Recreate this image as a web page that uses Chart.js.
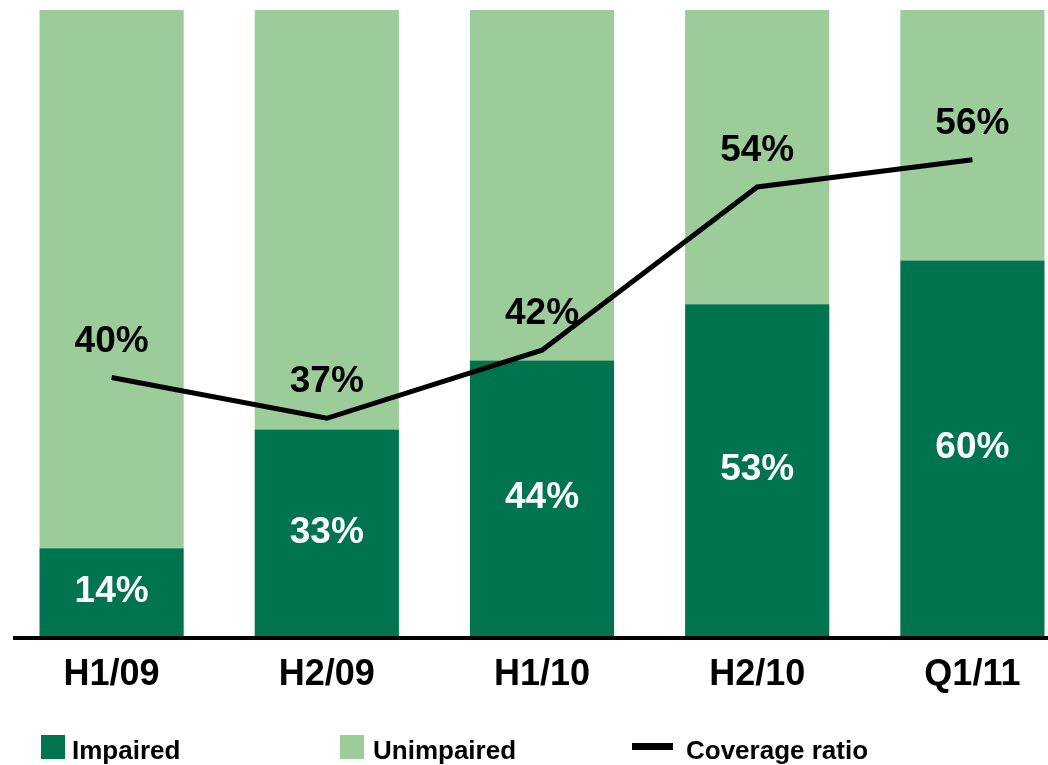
<!DOCTYPE html>
<html>
<head>
<meta charset="utf-8">
<script src="https://cdn.jsdelivr.net/npm/chart.js@4"></script>
<style>
  html, body { margin: 0; padding: 0; background: #fff; overflow: hidden; }
  #wrap { width: 1090px; height: 765px; }
</style>
</head>
<body>
<div id="wrap"><canvas id="myChart" width="1090" height="765"></canvas></div>
<script>
var periods = ['H1/09', 'H2/09', 'H1/10', 'H2/10', 'Q1/11'];
var impaired = [14, 33, 44, 53, 60];
var unimpaired = [86, 67, 56, 47, 40];
var coverage = [40, 37, 42, 54, 56];

var darkGreen = '#00734F';
var lightGreen = '#9BCC99';
var fontName = '"Liberation Sans", Arial, sans-serif';

// labels, axis line and legend
var extras = {
    id: 'extras',
    afterDatasetsDraw: function(chart) {
        var c = chart.ctx;
        var area = chart.chartArea;
        c.save();

        // baseline
        c.strokeStyle = '#000';
        c.lineWidth = 4;
        c.beginPath();
        c.moveTo(13, area.bottom + 2);
        c.lineTo(1090, area.bottom + 2);
        c.stroke();

        c.font = 'bold 37px ' + fontName;
        c.textAlign = 'center';
        c.textBaseline = 'middle';

        // impaired labels (white, centred in bar)
        var barMeta = chart.getDatasetMeta(0);
        barMeta.data.forEach(function(bar, i) {
            c.fillStyle = '#fff';
            c.fillText(impaired[i] + '%', bar.x, (bar.y + bar.base) / 2);
        });

        // coverage labels above the line points
        var lineMeta = chart.getDatasetMeta(2);
        lineMeta.data.forEach(function(pt, i) {
            c.fillStyle = '#000';
            c.fillText(coverage[i] + '%', pt.x, pt.y - 36);
        });

        // legend
        c.font = 'bold 26px ' + fontName;
        c.textAlign = 'left';
        c.textBaseline = 'alphabetic';
        c.fillStyle = darkGreen;
        c.fillRect(41, 735, 24, 24);
        c.fillStyle = '#000';
        c.fillText('Impaired', 72, 759);
        c.fillStyle = lightGreen;
        c.fillRect(340, 735, 24, 24);
        c.fillStyle = '#000';
        c.fillText('Unimpaired', 373, 759);
        c.fillRect(632, 743, 41, 7);
        c.fillText('Coverage ratio', 686, 759);

        c.restore();
    }
};

var ctx = document.getElementById('myChart').getContext('2d');
var myChart = new Chart(ctx, {
    type: 'bar',
    data: {
        labels: periods,
        datasets: [
            {
                label: 'Impaired',
                data: impaired,
                backgroundColor: darkGreen,
                barPercentage: 0.67,
                categoryPercentage: 1,
                order: 2
            },
            {
                label: 'Unimpaired',
                data: unimpaired,
                backgroundColor: lightGreen,
                barPercentage: 0.67,
                categoryPercentage: 1,
                order: 2
            },
            {
                type: 'line',
                label: 'Coverage ratio',
                data: coverage,
                yAxisID: 'y2',
                borderColor: '#000',
                borderWidth: 5,
                pointRadius: 0,
                tension: 0,
                order: 0
            }
        ]
    },
    options: {
        responsive: false,
        animation: false,
        layout: {
            padding: { top: 10, left: 4, right: 10, bottom: 0 }
        },
        plugins: {
            legend: { display: false },
            tooltip: { enabled: false }
        },
        scales: {
            x: {
                stacked: true,
                grid: { display: false, drawTicks: false },
                border: { display: false },
                ticks: {
                    color: '#000',
                    padding: 17,
                    font: { family: fontName, size: 36, weight: 'bold' }
                },
                afterFit: function(scale) { scale.height = 129; }
            },
            y: {
                stacked: true,
                display: false,
                min: 0,
                max: 100
            },
            y2: {
                display: false,
                min: 21,
                max: 67
            }
        }
    },
    plugins: [extras]
});
</script>
</body>
</html>
